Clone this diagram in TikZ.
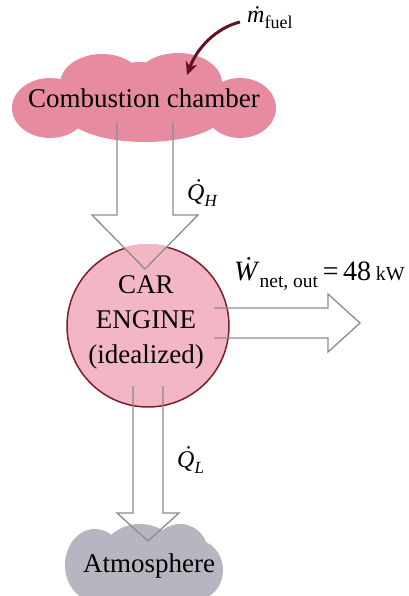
\documentclass[tikz,border=0pt]{standalone}
\usepackage{fontspec}
\setmainfont{Liberation Serif}
\usetikzlibrary{arrows.meta}
\definecolor{chamberpink}{RGB}{231,140,160}
\definecolor{enginepink}{RGB}{243,182,196}
\definecolor{engineedge}{RGB}{125,30,45}
\definecolor{atmgray}{RGB}{182,182,192}
\definecolor{arrowgray}{RGB}{140,140,140}
\definecolor{fuelred}{RGB}{100,18,28}
\newcommand{\lbsub}[2][17]{\raisebox{-0.25em}{\fontsize{#1}{#1}\selectfont #2}}
\newcommand{\dotQ}{\textit{\accent"02D9 Q}}
\tikzset{
  big/.style={font=\fontsize{27}{35}\selectfont},
  qlabel/.style={font=\fontsize{24}{28}\selectfont, anchor=base west, inner sep=0pt},
  blockarrow/.style={draw=arrowgray, line width=1.3pt, line join=miter},
}
\begin{document}
\begin{tikzpicture}[x=1pt,y=-1pt]
\useasboundingbox (0,0) rectangle (408,596);
% combustion chamber cloud
\fill[chamberpink]
  (50,108) ellipse [x radius=38, y radius=30]
  (102,84) ellipse [x radius=42, y radius=30]
  (178,83) ellipse [x radius=44, y radius=30]
  (240,108) ellipse [x radius=36, y radius=30]
  (145,112) ellipse [x radius=80, y radius=30]
  (140,80) ellipse [x radius=30, y radius=18]
  (145,100) ellipse [x radius=115, y radius=25];
\node[big, anchor=base] (comb) at (144,108) {Combustion chamber};
% atmosphere cloud
\fill[atmgray]
  (95,565) ellipse [x radius=30, y radius=36]
  (140,556) ellipse [x radius=38, y radius=32]
  (180,552) ellipse [x radius=28, y radius=28]
  (196,570) ellipse [x radius=27, y radius=30]
  (145,585) ellipse [x radius=72, y radius=22];
\node[big, anchor=base] (atm) at (149,572) {Atmosphere};
% engine
\node[circle, fill=enginepink, draw=engineedge, line width=1.5pt,
      minimum size=162pt, inner sep=0pt] (engine) at (148,326) {};
\begin{scope}
  \clip (engine.center) circle [radius=82];
  \fill[enginepink] (92,215) -- (145,269) -- (198,215) -- cycle;
\end{scope}
\node[big, align=center] (engtext) at (146,322) {CAR\\ENGINE\\(idealized)};
% arrow coordinates
\coordinate (qhs1) at (117,122);
\coordinate (qhs2) at (173,122);
\coordinate (qhtip) at (145,269);
\coordinate (qls1) at (133,386);
\coordinate (qls2) at (163,386);
\coordinate (qltip) at (148,541);
\coordinate (ws1) at (214,308);
\coordinate (ws2) at (214,338);
\coordinate (wtip) at (360,323);
% Q_H block arrow
\draw[blockarrow] (qhs1) -- (117,215) -- (92,215) -- (qhtip) -- (198,215) -- (173,215) -- (qhs2);
% Q_L block arrow
\draw[blockarrow] (qls1) -- (133,513) -- (117,513) -- (qltip) -- (179,513) -- (163,513) -- (qls2);
% W block arrow
\draw[blockarrow] (ws1) -- (328,308) -- (328,294) -- (wtip) -- (328,352) -- (328,338) -- (ws2);
% labels
\node[qlabel] (qh) at (187,200) {\dotQ\lbsub{\textit{H}}};
\node[qlabel] (ql) at (177,467) {\dotQ\lbsub{\textit{L}}};
\node[font=\fontsize{28}{30}\selectfont, anchor=base west, inner sep=0pt] (w) at (234,280)
  {\textit{\.W}\lbsub[19.5]{net, out}\,=\,48\,{\fontsize{20}{20}\selectfont kW}};
\node[font=\fontsize{24}{28}\selectfont, anchor=base west, inner sep=0pt] (mf) at (247,23)
  {\textit{\.m}\lbsub[18]{fuel}};
\coordinate (mfstart) at (240,22);
\coordinate (mfend) at (187,75);
\draw[fuelred, line width=3pt, -{Stealth[length=13pt,width=12pt]}]
  (mfstart) .. controls (216,28) and (197,48) .. (mfend);
\end{tikzpicture}
\end{document}
